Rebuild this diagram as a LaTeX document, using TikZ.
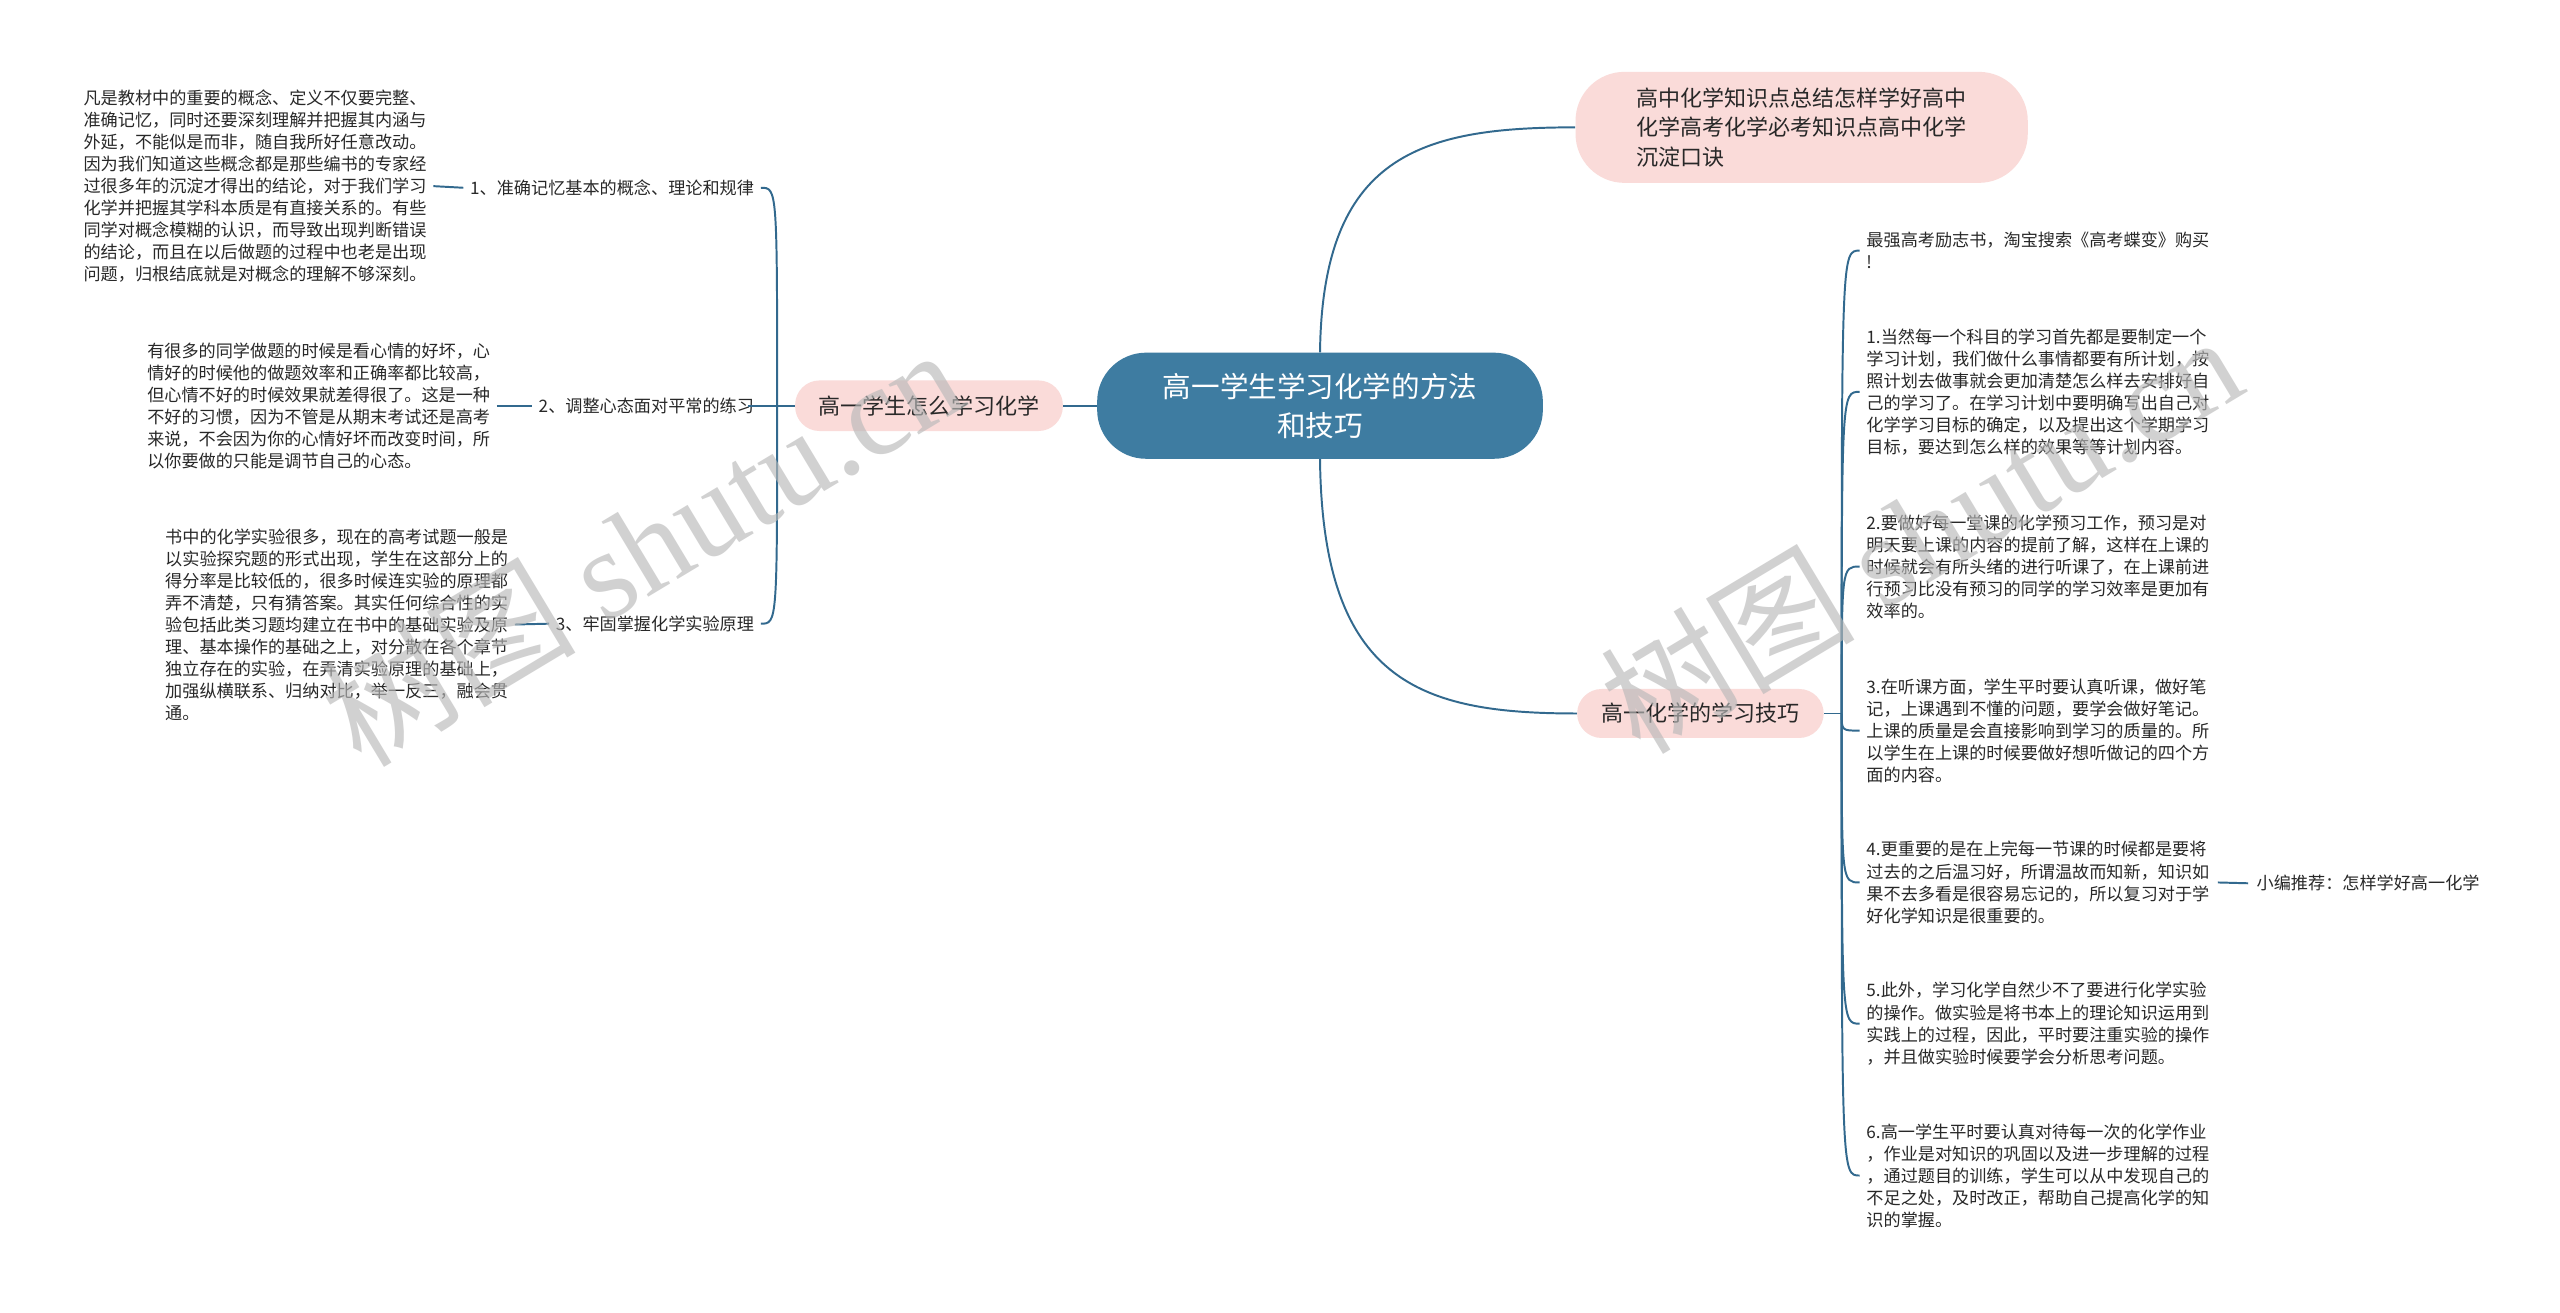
\documentclass[tikz,border=0pt]{standalone}
\usepackage{fontspec}
\setmainfont{Noto Sans CJK SC}
\newfontfamily\wmfont{Liberation Serif}
\usetikzlibrary{calc}
\definecolor{rootc}{RGB}{62,124,161}
\definecolor{linec}{RGB}{50,105,142}
\definecolor{pinkc}{RGB}{250,219,217}
\definecolor{txtc}{RGB}{40,40,40}
\definecolor{wmc}{RGB}{185,185,185}
\begin{document}
\begin{tikzpicture}[x=1pt,y=-1pt,
  conn/.style={draw=linec,line width=1.2pt},
  rootbox/.style={fill=rootc,text=white,rounded corners=30pt,minimum width=273pt,minimum height=65pt,align=center,font=\fontsize{17.5}{24}\selectfont,inner sep=0pt},
  pinkbox/.style={fill=pinkc,text=txtc,rounded corners=15pt,minimum height=31pt,inner sep=0pt,font=\fontsize{13.5}{18}\selectfont},
  smalltext/.style={text=txtc,align=left,inner sep=0pt,font=\fontsize{10.5}{13.5}\selectfont},
  wm/.style={text=wmc,text opacity=0.65,rotate=31,inner sep=0pt,font=\fontsize{78}{78}\selectfont}
]
\useasboundingbox[fill=white] (0,0) rectangle (1568,804);

% main nodes
\node[rootbox] (root) at (808.5,248.5) {高一学生学习化学的方法\\和技巧};
\node[pinkbox,minimum width=164pt] (ln) at (569,248.5) {高一学生怎么学习化学};
\node[pinkbox,minimum width=277pt,minimum height=68pt,rounded corners=30pt,align=left] (tr) at (1103.5,78) {高中化学知识点总结怎样学好高中\\化学高考化学必考知识点高中化学\\沉淀口诀};
\node[pinkbox,minimum width=151pt,minimum height=30pt] (rn) at (1041.5,437) {高一化学的学习技巧};

% left labels
\node[smalltext,anchor=east] (l1) at (462,115) {1、准确记忆基本的概念、理论和规律};
\node[smalltext,anchor=east] (l2) at (462,248.5) {2、调整心态面对平常的练习};
\node[smalltext,anchor=east] (l3) at (462,382) {3、牢固掌握化学实验原理};

% left blocks
\node[smalltext,anchor=west] (b1) at (51,114) {凡是教材中的重要的概念、定义不仅要完整、\\准确记忆，同时还要深刻理解并把握其内涵与\\外延，不能似是而非，随自我所好任意改动。\\因为我们知道这些概念都是那些编书的专家经\\过很多年的沉淀才得出的结论，对于我们学习\\化学并把握其学科本质是有直接关系的。有些\\同学对概念模糊的认识，而导致出现判断错误\\的结论，而且在以后做题的过程中也老是出现\\问题，归根结底就是对概念的理解不够深刻。};
\node[smalltext,anchor=west] (b2) at (90,248.5) {有很多的同学做题的时候是看心情的好坏，心\\情好的时候他的做题效率和正确率都比较高，\\但心情不好的时候效果就差得很了。这是一种\\不好的习惯，因为不管是从期末考试还是高考\\来说，不会因为你的心情好坏而改变时间，所\\以你要做的只能是调节自己的心态。};
\node[smalltext,anchor=west] (b3) at (101,382.5) {书中的化学实验很多，现在的高考试题一般是\\以实验探究题的形式出现，学生在这部分上的\\得分率是比较低的，很多时候连实验的原理都\\弄不清楚，只有猜答案。其实任何综合性的实\\验包括此类习题均建立在书中的基础实验及原\\理、基本操作的基础之上，对分散在各个章节\\独立存在的实验，在弄清实验原理的基础上，\\加强纵横联系、归纳对比，举一反三，融会贯\\通。};

% right items
\node[smalltext,anchor=west] (r0) at (1143,153.5) {最强高考励志书，淘宝搜索《高考蝶变》购买\\!};
\node[smalltext,anchor=west] (r1) at (1143,240) {1.当然每一个科目的学习首先都是要制定一个\\学习计划，我们做什么事情都要有所计划，按\\照计划去做事就会更加清楚怎么样去安排好自\\己的学习了。在学习计划中要明确写出自己对\\化学学习目标的确定，以及提出这个学期学习\\目标，要达到怎么样的效果等等计划内容。};
\node[smalltext,anchor=west] (r2) at (1143,347) {2.要做好每一堂课的化学预习工作，预习是对\\明天要上课的内容的提前了解，这样在上课的\\时候就会有所头绪的进行听课了，在上课前进\\行预习比没有预习的同学的学习效率是更加有\\效率的。};
\node[smalltext,anchor=west] (r3) at (1143,447.5) {3.在听课方面，学生平时要认真听课，做好笔\\记，上课遇到不懂的问题，要学会做好笔记。\\上课的质量是会直接影响到学习的质量的。所\\以学生在上课的时候要做好想听做记的四个方\\面的内容。};
\node[smalltext,anchor=west] (r4) at (1143,540.5) {4.更重要的是在上完每一节课的时候都是要将\\过去的之后温习好，所谓温故而知新，知识如\\果不去多看是很容易忘记的，所以复习对于学\\好化学知识是很重要的。};
\node[smalltext,anchor=west] (r5) at (1143,627) {5.此外，学习化学自然少不了要进行化学实验\\的操作。做实验是将书本上的理论知识运用到\\实践上的过程，因此，平时要注重实验的操作\\，并且做实验时候要学会分析思考问题。};
\node[smalltext,anchor=west] (r6) at (1143,720) {6.高一学生平时要认真对待每一次的化学作业\\，作业是对知识的巩固以及进一步理解的过程\\，通过题目的训练，学生可以从中发现自己的\\不足之处，及时改正，帮助自己提高化学的知\\识的掌握。};
\node[smalltext,anchor=west] (r4a) at (1382,541) {小编推荐：怎样学好高一化学};

% connectors
\draw[conn] (root.west) -- (ln.east);
\draw[conn] (root.north) .. controls (810,95) and (870,78) .. (tr.west);
\draw[conn] (root.south) .. controls (810,418) and (870,437) .. (rn.west);

\coordinate (lj) at (476,248.5);
\draw[conn] (ln.west) -- ([xshift=-4pt]l2.east);
\draw[conn] (lj) .. controls (lj |- l1.east) and (lj |- l1.east) .. ([xshift=4pt]l1.east);
\draw[conn] (lj) .. controls (lj |- l3.east) and (lj |- l3.east) .. ([xshift=4pt]l3.east);
\draw[conn] ([xshift=4pt]b1.east) -- ([xshift=-4pt]l1.west);
\draw[conn] ([xshift=4pt]b2.east) -- ([xshift=-4pt]l2.west);
\draw[conn] ([xshift=4pt]b3.east) -- ([xshift=-4pt]l3.west);

\coordinate (rj) at (1128,437);
\draw[conn] (rn.east) -- (rj);
\foreach \n in {r0,r1,r2,r3,r4,r5,r6} {
  \draw[conn] (rj) .. controls (rj |- \n.west) and (rj |- \n.west) .. ([xshift=-4pt]\n.west);
}
\draw[conn] ([xshift=5pt]r4.east) -- ([xshift=-5pt]r4a.west);

% watermarks
\node[wm] (wm1) at (393,334) {树图 {\wmfont shutu.cn}};
\node[wm] (wm2) at (1176,326) {树图 {\wmfont shutu.cn}};
\end{tikzpicture}
\end{document}
